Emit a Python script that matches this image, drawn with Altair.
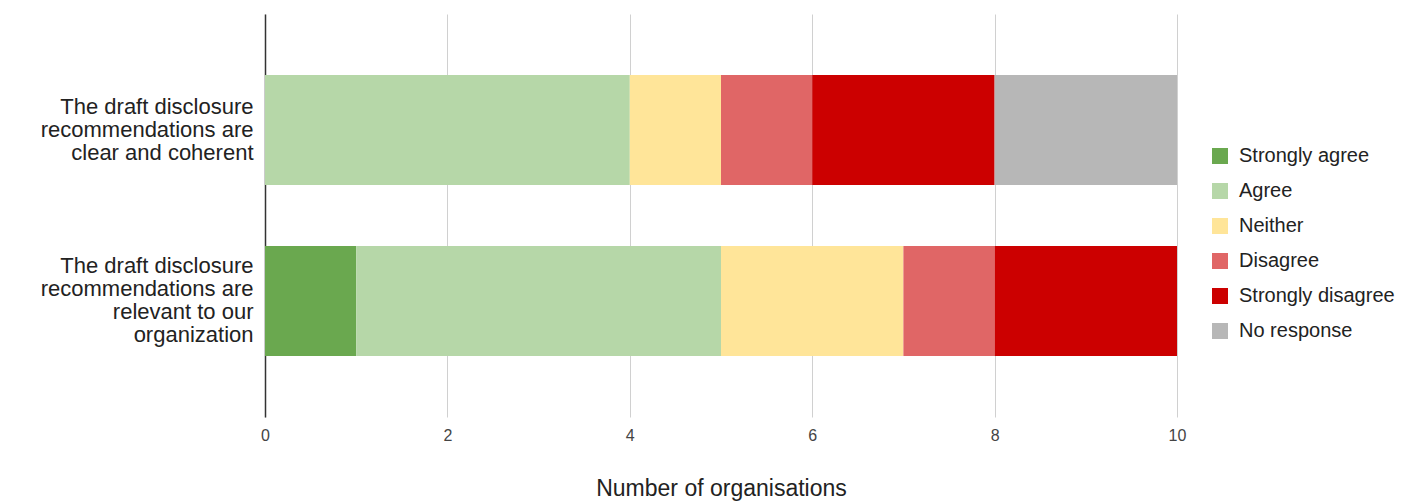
import altair as alt
import pandas as pd

questions = [
    "The draft disclosure\nrecommendations are\nclear and coherent",
    "The draft disclosure\nrecommendations are\nrelevant to our\norganization",
]
responses = ["Strongly agree", "Agree", "Neither", "Disagree", "Strongly disagree", "No response"]
colors = ["#6aa84f", "#b6d7a8", "#ffe599", "#e06666", "#cc0000", "#b7b7b7"]
values_q1 = [0, 4, 1, 1, 2, 2]
values_q2 = [1, 4, 2, 1, 2, 0]
x_ticks = [0, 2, 4, 6, 8, 10]

rows = []
for q, vals in zip(questions, [values_q1, values_q2]):
    for i, (r, v) in enumerate(zip(responses, vals)):
        rows.append({"question": q, "response": r, "count": v, "order": i})
df = pd.DataFrame(rows)

FONT = "Liberation Sans"
LH = 23

chart = alt.Chart(df).mark_bar().encode(
    y=alt.Y(
        "question:N",
        sort=questions,
        scale=alt.Scale(paddingInner=0.357, paddingOuter=0.357),
        axis=alt.Axis(
            title=None,
            ticks=False,
            labelExpr="split(datum.label, '\\n')",
            labelFontSize=22,
            labelLineHeight=LH,
            labelColor="#222222",
            labelPadding=12,
            labelLimit=400,
            labelFont=FONT,
            labelOffset={
                "condition": {"test": "indexof(datum.value, 'relevant') >= 0", "value": -1.5 * LH},
                "value": -1.0 * LH,
            },
            domainColor="#333333",
            domainWidth=1.5,
        ),
    ),
    x=alt.X(
        "count:Q",
        stack="zero",
        scale=alt.Scale(domain=[0, 10], nice=False),
        axis=alt.Axis(
            title="Number of organisations",
            values=x_ticks,
            domain=False,
            ticks=False,
            grid=True,
            gridColor="#d0d0d0",
            gridWidth=1,
            labelFontSize=16,
            labelColor="#444444",
            labelPadding=10,
            labelFlush=False,
            labelFont=FONT,
            titleFont=FONT,
            titleFontSize=23,
            titleFontWeight="normal",
            titleColor="#222222",
            titlePadding=34,
        ),
    ),
    color=alt.Color(
        "response:N",
        sort=responses,
        scale=alt.Scale(domain=responses, range=colors),
        legend=alt.Legend(
            title=None,
            orient="none",
            legendX=945,
            legendY=132,
            symbolType="square",
            symbolSize=256,
            symbolStrokeWidth=0,
            symbolOpacity=1,
            labelFontSize=20,
            labelFont=FONT,
            labelColor="#222222",
            rowPadding=15,
            labelOffset=9,
        ),
    ),
    order=alt.Order("order:Q", sort="ascending"),
).properties(
    width=912,
    height=403,
    padding={"left": 265, "top": 14, "right": 249, "bottom": 85},
    autosize=alt.AutoSizeParams(type="none"),
).configure_view(
    stroke=None
)

chart.save("out.html", embed_options={"renderer": "svg", "actions": False})
